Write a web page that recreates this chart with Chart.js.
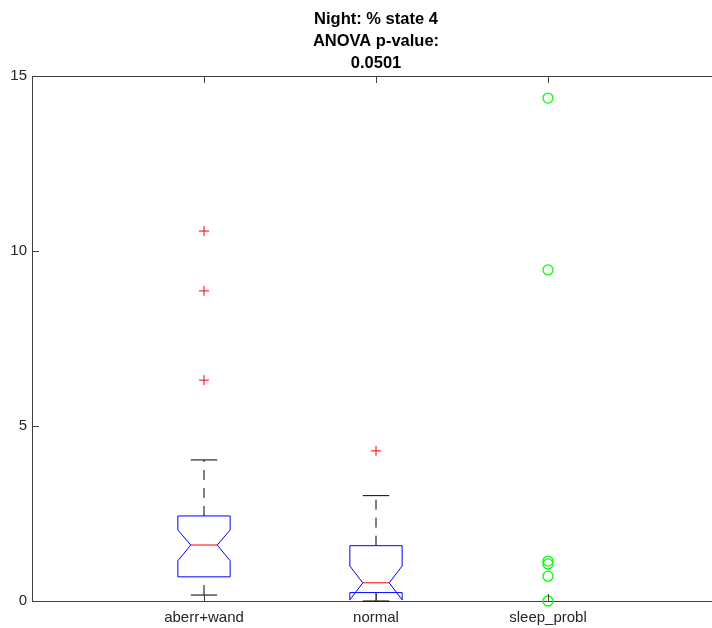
<!DOCTYPE html>
<html>
<head>
<meta charset="utf-8">
<script src="https://cdn.jsdelivr.net/npm/chart.js@4/dist/chart.umd.min.js"></script>
<style>
  html, body { margin: 0; padding: 0; background: #fff; overflow: hidden; }
  #wrap { width: 752px; height: 628px; }
</style>
</head>
<body>
<div id="wrap"><canvas id="chart" width="752" height="628"></canvas></div>
<script>
/* ---------- data ---------- */
const categories = ['aberr+wand', 'normal', 'sleep_probl'];
const yTicks = [0, 5, 10, 15];
const titleLines = ['Night: % state 4', 'ANOVA p-value:', '0.0501'];

// box statistics per group (null = no box drawn)
const q1Values      = [0.69, 0.24, null];
const medianValues  = [1.60, 0.52, null];
const q3Values      = [2.43, 1.58, null];
const notchLow      = [1.15, 0.03, null];
const notchHigh     = [2.03, 1.00, null];
const whiskerLow    = [0.17, 0.00, null];
const whiskerHigh   = [4.03, 3.01, null];

// outliers (red +) and raw points of the third group (green o)
const outliersAberr  = [10.57, 8.86, 6.31];
const outliersNormal = [4.29];
const sleepPoints    = [14.37, 9.46, 1.14, 1.06, 0.71, 0.00];

/* ---------- helpers ---------- */
const FONT = '"Liberation Sans", Arial, sans-serif';
const AXIS_COLOR = '#404040';
const TEXT_COLOR = '#262626';
const BOX_HALF = 0.152;     // half box width in x units
const NOTCH_HALF = 0.077;   // half notch / cap width in x units
const TICK_LEN = 7;

const toPoints = (vals, x) => vals.map(v => ({ x: x, y: v }));

/* ---------- box plot plugin ---------- */
const boxPlugin = {
    id: 'boxPlugin',
    beforeDatasetsDraw(chart) {
        const { ctx, scales: { x, y } } = chart;
        ctx.save();
        categories.forEach((cat, i) => {
            if (q1Values[i] === null) return;
            const c = i + 1;
            const px = v => x.getPixelForValue(v);
            const py = v => y.getPixelForValue(v);

            // whiskers (dashed)
            ctx.strokeStyle = '#000';
            ctx.lineWidth = 1;
            ctx.setLineDash([10, 8]);
            ctx.beginPath();
            ctx.moveTo(px(c), py(q3Values[i]));
            ctx.lineTo(px(c), py(whiskerHigh[i]));
            ctx.moveTo(px(c), py(whiskerLow[i]));
            ctx.lineTo(px(c), py(q1Values[i]));
            ctx.stroke();
            ctx.setLineDash([]);

            // caps
            ctx.beginPath();
            [whiskerHigh[i], whiskerLow[i]].forEach(v => {
                ctx.moveTo(px(c - NOTCH_HALF), py(v));
                ctx.lineTo(px(c + NOTCH_HALF), py(v));
            });
            ctx.stroke();

            // notched box
            const pts = [
                [c - BOX_HALF, q1Values[i]], [c - BOX_HALF, notchLow[i]],
                [c - NOTCH_HALF, medianValues[i]], [c - BOX_HALF, notchHigh[i]],
                [c - BOX_HALF, q3Values[i]], [c + BOX_HALF, q3Values[i]],
                [c + BOX_HALF, notchHigh[i]], [c + NOTCH_HALF, medianValues[i]],
                [c + BOX_HALF, notchLow[i]], [c + BOX_HALF, q1Values[i]]
            ];
            ctx.strokeStyle = '#0000ff';
            ctx.beginPath();
            pts.forEach(([vx, vy], k) => {
                if (k === 0) ctx.moveTo(px(vx), py(vy));
                else ctx.lineTo(px(vx), py(vy));
            });
            ctx.closePath();
            ctx.stroke();

            // median
            ctx.strokeStyle = '#ff0000';
            ctx.beginPath();
            ctx.moveTo(px(c - NOTCH_HALF), py(medianValues[i]));
            ctx.lineTo(px(c + NOTCH_HALF), py(medianValues[i]));
            ctx.stroke();
        });
        ctx.restore();
    },
    afterDraw(chart) {
        const { ctx, chartArea: a, scales: { x, y } } = chart;
        ctx.save();
        ctx.strokeStyle = AXIS_COLOR;
        ctx.lineWidth = 1;
        ctx.beginPath();
        // top frame line
        ctx.moveTo(a.left, a.top + 0.5);
        ctx.lineTo(a.right, a.top + 0.5);
        // inward ticks
        categories.forEach((c, i) => {
            const tx = Math.round(x.getPixelForValue(i + 1)) + 0.5;
            ctx.moveTo(tx, a.bottom); ctx.lineTo(tx, a.bottom - TICK_LEN);
            ctx.moveTo(tx, a.top); ctx.lineTo(tx, a.top + TICK_LEN);
        });
        yTicks.forEach(v => {
            const ty = Math.round(y.getPixelForValue(v)) + 0.5;
            ctx.moveTo(a.left, ty); ctx.lineTo(a.left + TICK_LEN, ty);
        });
        ctx.stroke();

        // title, centred over the plot area
        ctx.fillStyle = '#000';
        ctx.font = 'bold 16.5px ' + FONT;
        ctx.textAlign = 'center';
        ctx.textBaseline = 'middle';
        const cx = (a.left + a.right) / 2;
        titleLines.forEach((t, k) => ctx.fillText(t, cx, 19 + k * 22));
        ctx.restore();
    }
};

/* ---------- chart ---------- */
Chart.defaults.font.family = FONT;
Chart.defaults.color = TEXT_COLOR;

new Chart(document.getElementById('chart'), {
    type: 'scatter',
    data: {
        datasets: [
            {
                data: toPoints(outliersAberr, 1).concat(toPoints(outliersNormal, 2)),
                pointStyle: 'cross', radius: 5, borderColor: '#ff0000', borderWidth: 1, clip: false
            },
            {
                data: toPoints(sleepPoints, 3),
                pointStyle: 'circle', radius: 5, borderColor: '#00ff00',
                backgroundColor: 'rgba(0,0,0,0)', borderWidth: 1.3, clip: false
            }
        ]
    },
    options: {
        responsive: false,
        animation: false,
        events: [],
        layout: { padding: { top: 76, right: 32 } },
        plugins: {
            legend: { display: false },
            tooltip: { enabled: false },
            title: { display: false }
        },
        scales: {
            x: {
                type: 'linear', min: 0, max: 4,
                afterBuildTicks: s => { s.ticks = categories.map((c, i) => ({ value: i + 1 })); },
                afterFit: s => { s.height = 27; },
                ticks: {
                    callback: v => categories[v - 1],
                    font: { size: 15 }, padding: 8, maxRotation: 0
                },
                grid: { display: false, drawTicks: false },
                border: { display: true, color: AXIS_COLOR }
            },
            y: {
                min: 0, max: 15,
                afterBuildTicks: s => { s.ticks = yTicks.map(v => ({ value: v })); },
                afterFit: s => { s.width = 32; },
                ticks: { font: { size: 15 }, padding: 5 },
                grid: { display: false, drawTicks: false },
                border: { display: true, color: AXIS_COLOR }
            }
        }
    },
    plugins: [boxPlugin]
});
</script>
</body>
</html>
